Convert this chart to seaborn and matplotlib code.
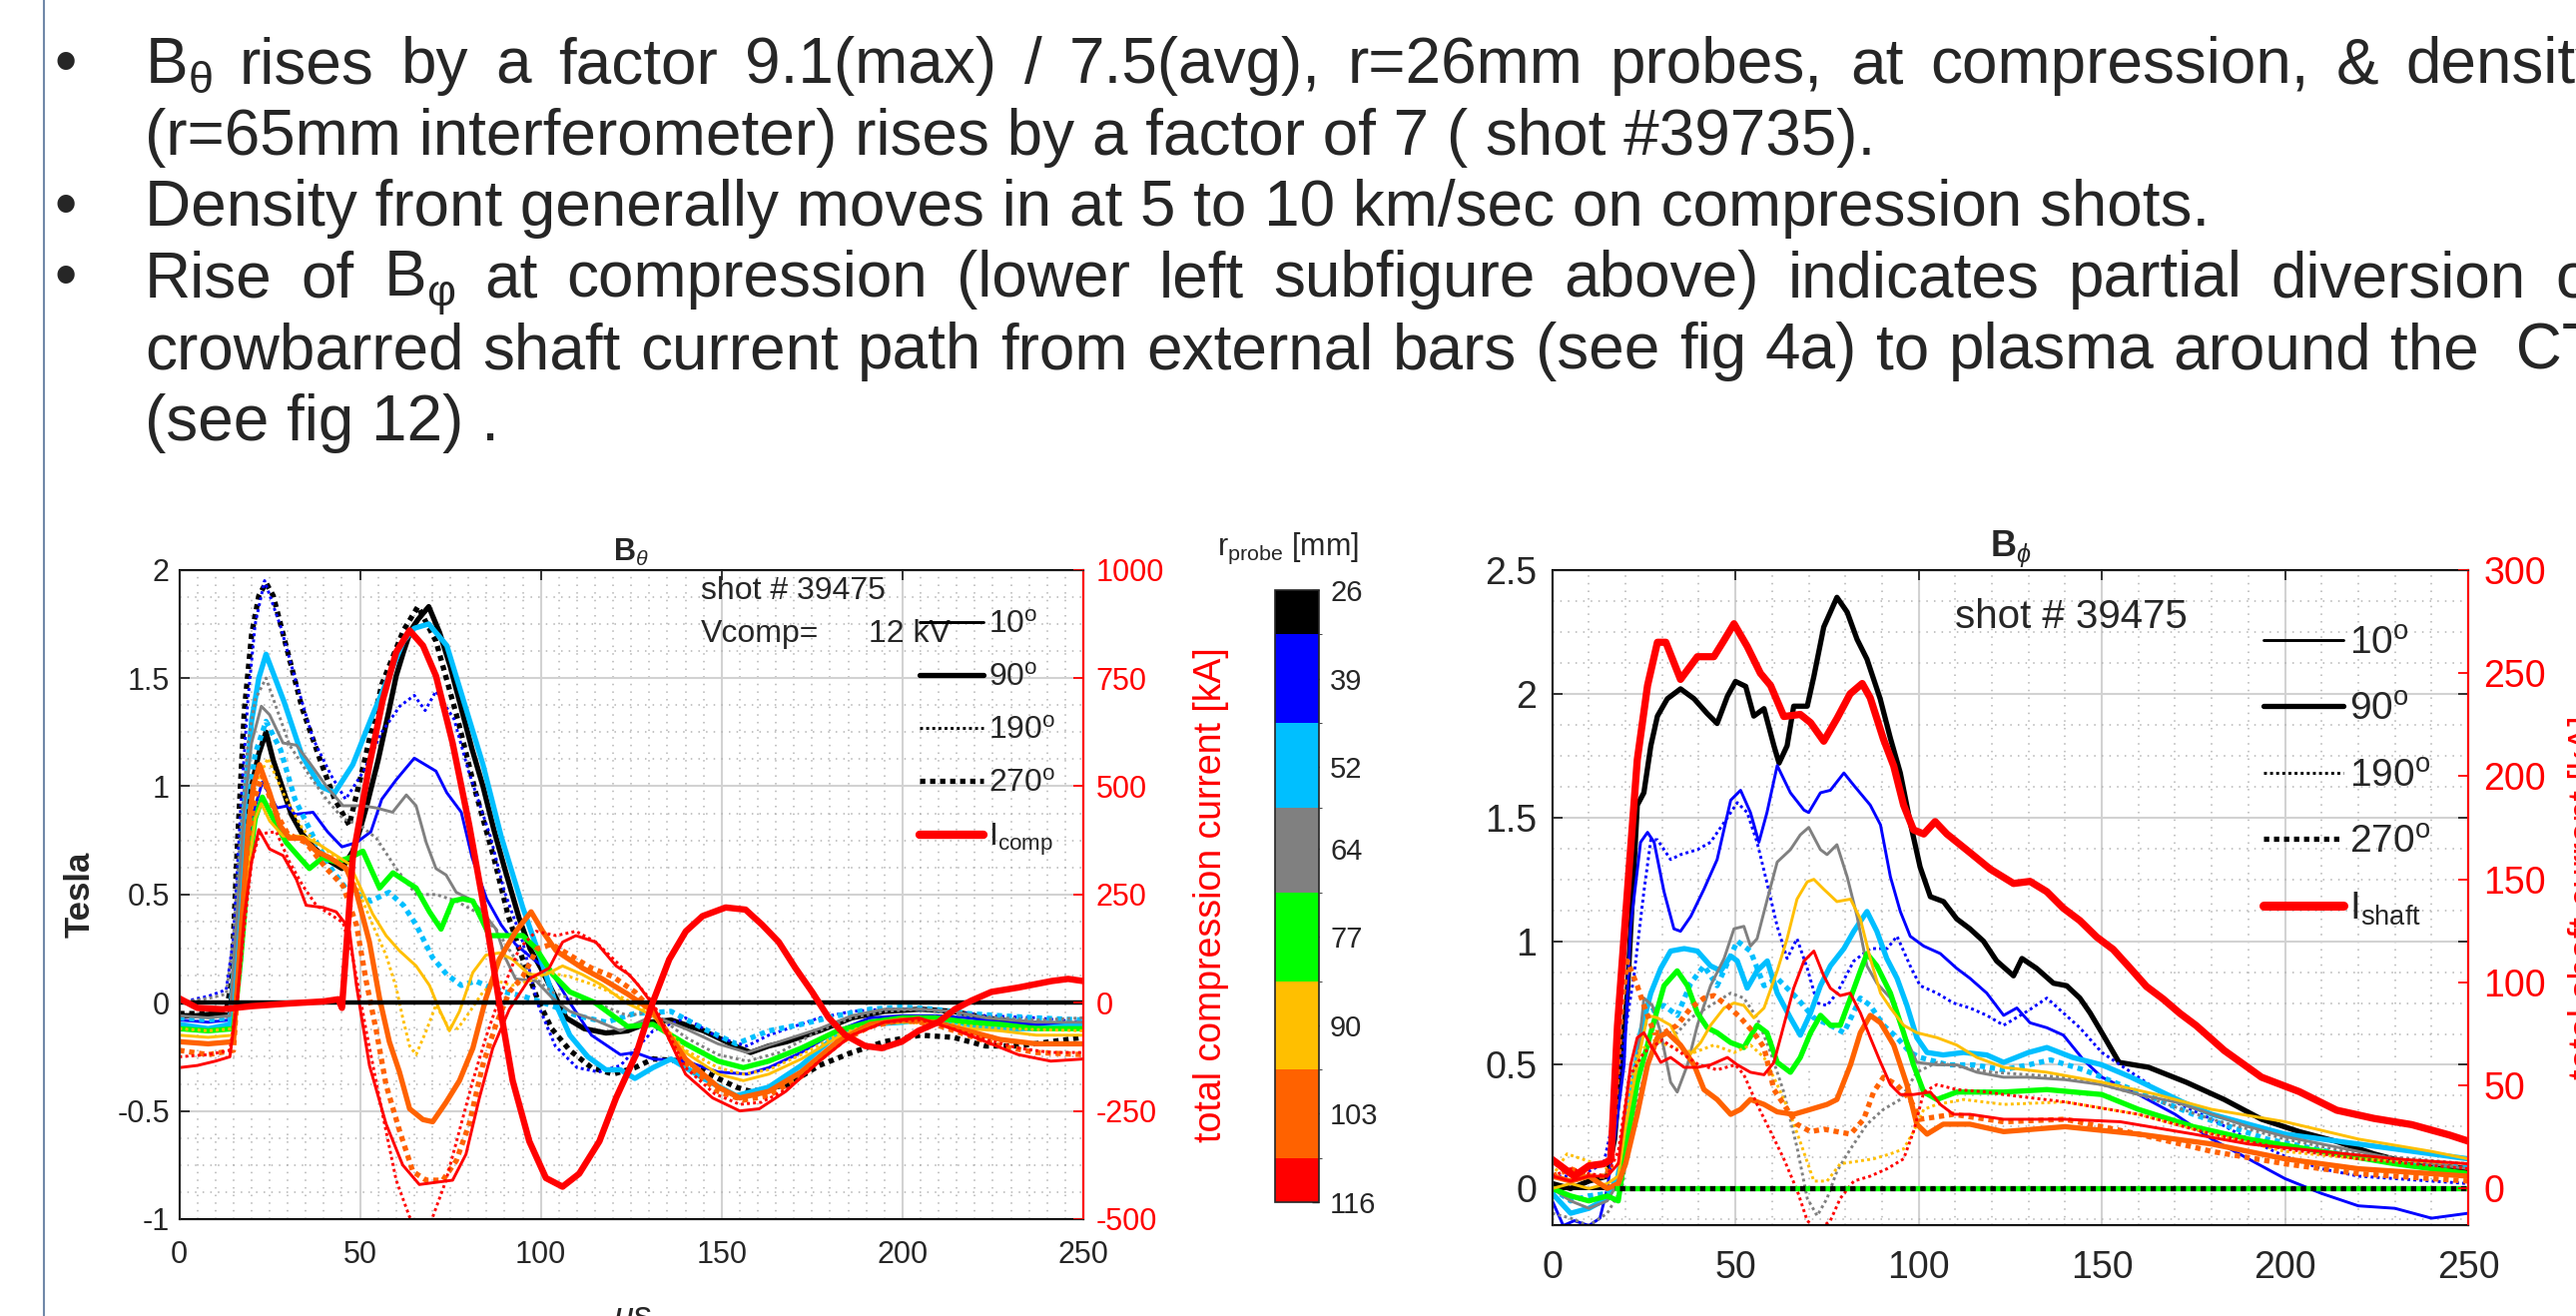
import matplotlib
matplotlib.use("Agg")
import matplotlib.pyplot as plt
from matplotlib.colors import ListedColormap, BoundaryNorm
from matplotlib.cm import ScalarMappable
from matplotlib.lines import Line2D
from matplotlib.ticker import MultipleLocator, FixedLocator, FuncFormatter
import seaborn as sns

sns.set_style("white")
plt.rcParams["font.family"] = ["Liberation Sans", "DejaVu Sans"]
plt.rcParams["mathtext.fontset"] = "custom"
plt.rcParams["mathtext.rm"] = "Liberation Sans"
plt.rcParams["mathtext.it"] = "Liberation Sans:italic"
plt.rcParams["mathtext.bf"] = "Liberation Sans:bold"
plt.rcParams["axes.unicode_minus"] = False

# ---------------------------------------------------------------- text
bullet1_words = [r"B$_{\mathrm{θ}}$", "rises", "by", "a", "factor", "9.1(max)", "/", "7.5(avg),",
                 "r=26mm", "probes,", "at", "compression,", "&", "density"]
line2_text = "(r=65mm interferometer) rises by a factor of 7 ( shot #39735)."
line3_text = "Density front generally moves in at 5 to 10 km/sec on compression shots."
bullet3_words = ["Rise", "of", r"B$_{\mathrm{φ}}$", "at", "compression", "(lower", "left", "subfigure",
                 "above)", "indicates", "partial", "diversion", "of"]
line5_words = ["crowbarred", "shaft", "current", "path", "from", "external", "bars", "(see", "fig", "4a)",
               "to", "plasma", "around", "the", " CT"]
line6_text = "(see fig 12) ."

# ---------------------------------------------------------------- colour bar
probe_radii = [26, 39, 52, 64, 77, 90, 103, 116]
probe_colors = ["#000000", "#0000ff", "#00bfff", "#808080", "#00ff00", "#ffbf00", "#ff6200", "#ff0000"]
probe_bounds = [26, 32.5, 45.5, 58, 70.5, 83.5, 96.5, 109.5, 116]

# ---------------------------------------------------------------- B_theta (left), Tesla vs microseconds
L26_10_t = [0, 250]
L26_10_y = [0.0, 0.0]
L26_90_t = [0, 5, 10, 14, 16, 18, 20, 22, 24, 26, 28, 31, 34, 37, 41, 45, 48, 50, 52, 55, 58, 60, 62, 64, 66, 69,
            72, 75, 78, 81, 84, 87, 90, 94, 97, 100, 103, 107, 112, 118, 124, 130, 136, 145, 150, 155, 158, 163,
            168, 177, 186, 195, 205, 214, 223, 232, 241, 250]
L26_90_y = [-0.06, -0.06, -0.05, -0.06, 0.3, 0.75, 1.0, 1.15, 1.25, 1.12, 1.02, 0.87, 0.78, 0.72, 0.66, 0.62, 0.7,
            0.8, 0.92, 1.12, 1.35, 1.51, 1.62, 1.72, 1.77, 1.83, 1.71, 1.55, 1.36, 1.17, 1.0, 0.8, 0.62, 0.39,
            0.25, 0.16, 0.06, -0.07, -0.12, -0.14, -0.13, -0.09, -0.08, -0.13, -0.17, -0.21, -0.23, -0.2, -0.18,
            -0.13, -0.07, -0.04, -0.03, -0.04, -0.07, -0.09, -0.1, -0.1]
L26_270_t = [0, 8, 13, 14.5, 16, 18, 20, 22, 24, 26, 30, 34, 39, 43, 47, 51, 56, 62, 66, 71, 77, 82, 87, 91, 95,
             99, 103, 108, 114, 120, 126, 131, 140, 149, 154, 158, 168, 177, 186, 195, 205, 214, 223, 232, 241, 250]
L26_270_y = [-0.05, -0.05, -0.04, 0.1, 0.7, 1.35, 1.7, 1.88, 1.94, 1.88, 1.62, 1.36, 1.12, 0.94, 0.82, 1.1, 1.47,
             1.72, 1.83, 1.67, 1.31, 0.97, 0.67, 0.4, 0.2, 0.02, -0.12, -0.22, -0.3, -0.33, -0.3, -0.26, -0.27,
             -0.35, -0.39, -0.41, -0.38, -0.29, -0.23, -0.18, -0.15, -0.16, -0.2, -0.2, -0.18, -0.16]
L39_10_t = [0, 8, 14, 16, 18, 20, 23, 27, 30, 32, 37, 41, 45, 49, 53, 56, 60, 65, 68, 71, 74, 78, 81, 85, 89, 93,
            98, 103, 108, 114, 122, 126, 131, 140, 149, 157, 163, 172, 182, 191, 200, 209, 218, 227, 237, 250]
L39_10_y = [-0.08, -0.09, -0.08, 0.2, 0.6, 0.85, 1.02, 0.9, 0.91, 0.87, 0.88, 0.79, 0.72, 0.74, 0.79, 0.94, 1.03,
            1.13, 1.10, 1.07, 0.97, 0.88, 0.67, 0.48, 0.36, 0.27, 0.2, 0.14, 0.0, -0.15, -0.24, -0.23, -0.26,
            -0.27, -0.32, -0.33, -0.30, -0.23, -0.13, -0.07, -0.06, -0.06, -0.07, -0.09, -0.10, -0.10]
L39_190_t = [0, 8, 13, 15, 17, 19, 21, 23.6, 28, 32, 37, 42, 46, 51, 56, 61, 65, 68, 71, 76, 80, 86, 90, 95, 99,
             104, 110, 116, 122, 131, 140, 149, 157, 163, 177, 186, 195, 205, 214, 223, 237, 250]
L39_190_y = [0.0, 0.03, 0.06, 0.3, 0.9, 1.4, 1.75, 1.95, 1.74, 1.5, 1.22, 1.05, 0.94, 1.07, 1.25, 1.37, 1.42, 1.35,
             1.44, 1.31, 1.07, 0.77, 0.51, 0.28, 0.0, -0.2, -0.3, -0.32, -0.29, -0.13, -0.07, -0.16, -0.20,
             -0.15, -0.07, -0.04, -0.03, -0.03, -0.04, -0.06, -0.07, -0.09]
L52_90_t = [0, 8, 14, 16, 18, 20, 22, 24, 29, 34, 39, 43, 48, 53, 57, 62, 65, 69, 74, 78, 84, 89, 95, 100, 104,
            108, 113, 118, 122, 126, 131, 136, 145, 154, 163, 172, 181, 191, 200, 209, 218, 227, 237, 250]
L52_90_y = [-0.1, -0.12, -0.1, 0.3, 0.9, 1.3, 1.5, 1.61, 1.39, 1.14, 1.0, 0.97, 1.1, 1.31, 1.47, 1.67, 1.73, 1.75,
            1.65, 1.43, 1.10, 0.77, 0.44, 0.20, 0.0, -0.15, -0.25, -0.31, -0.31, -0.35, -0.30, -0.26, -0.35,
            -0.43, -0.39, -0.29, -0.16, -0.10, -0.09, -0.07, -0.10, -0.12, -0.12, -0.10]
L52_270_t = [0, 8, 14, 16, 18, 21, 24, 28, 32, 37, 42, 46, 53, 58, 62, 65.5, 70, 74, 78, 82, 86, 90, 95, 99, 104,
             110, 118, 126, 136, 145, 154, 163, 172, 182, 191, 200, 209, 218, 227, 237, 250]
L52_270_y = [-0.07, -0.08, -0.07, 0.3, 0.8, 1.15, 1.3, 1.17, 0.94, 0.77, 0.62, 0.53, 0.47, 0.51, 0.45, 0.36, 0.21,
             0.13, 0.08, 0.1, 0.07, 0.05, 0.03, 0.01, -0.02, -0.06, -0.09, -0.05, -0.04, -0.12, -0.19, -0.13,
             -0.10, -0.06, -0.03, -0.02, -0.03, -0.05, -0.06, -0.07, -0.08]
L64_10_t = [0, 8, 14, 16, 18, 20, 22.7, 25, 28.7, 32.4, 36, 40.7, 45.3, 50.8, 54.5, 59, 62.8, 65.5, 68.3, 71, 73.8,
            76.6, 80.2, 83.9, 87.6, 90.4, 93, 98.7, 103.3, 108, 115, 122, 131, 140, 149, 157, 166, 177, 186, 195,
            205, 214, 223, 237, 250]
L64_10_y = [-0.06, -0.07, -0.06, 0.4, 0.9, 1.2, 1.37, 1.33, 1.2, 1.19, 1.11, 1.0, 0.91, 0.91, 0.90, 0.88, 0.96,
            0.91, 0.74, 0.62, 0.59, 0.51, 0.48, 0.42, 0.34, 0.2, 0.11, 0.1, 0.02, -0.04, -0.08, -0.13, -0.06,
            -0.12, -0.19, -0.23, -0.18, -0.12, -0.06, -0.03, -0.03, -0.04, -0.07, -0.09, -0.09]
L64_190_t = [0, 8, 13, 15, 17, 19, 21, 24, 30.5, 36, 40.7, 45.3, 50, 54.5, 60, 65.5, 71, 76.6, 82, 87.6, 93, 98.7,
             103, 108, 115, 124, 131, 140, 149, 157, 166, 177, 186, 195, 205, 218, 237, 250]
L64_190_y = [0.0, 0.02, 0.04, 0.3, 0.8, 1.2, 1.4, 1.50, 1.19, 1.05, 0.94, 0.85, 0.82, 0.76, 0.62, 0.50, 0.50, 0.47,
             0.42, 0.34, 0.2, 0.11, 0.05, 0.02, 0.0, -0.06, -0.04, -0.16, -0.24, -0.27, -0.23, -0.13, -0.07,
             -0.04, -0.03, -0.06, -0.08, -0.07]
L77_90_t = [0, 8, 15, 17, 19, 21, 23, 26, 29.6, 33.3, 36, 39.7, 43.4, 47.1, 50.8, 53.5, 55.4, 59.1, 61.8, 65.5,
            69.2, 72.4, 75.6, 78.4, 81.2, 85.8, 91.3, 95, 98.7, 103.3, 108, 115, 124, 131, 140, 149, 156, 163,
            172, 182, 191, 200, 209, 218, 227, 237, 250]
L77_90_y = [-0.12, -0.13, -0.12, 0.2, 0.6, 0.85, 0.95, 0.85, 0.74, 0.67, 0.62, 0.67, 0.65, 0.67, 0.70, 0.60, 0.53,
            0.60, 0.57, 0.53, 0.42, 0.34, 0.47, 0.48, 0.47, 0.31, 0.31, 0.31, 0.25, 0.13, 0.05, 0.0, -0.11, -0.10,
            -0.19, -0.27, -0.30, -0.27, -0.21, -0.13, -0.09, -0.07, -0.07, -0.09, -0.10, -0.12, -0.12]
L90_10_t = [0, 8, 15, 17, 19, 21, 22.7, 25, 28.7, 34.2, 38.8, 43.4, 47.1, 49.9, 53.5, 57.2, 60.9, 65.5, 69.2, 71.9,
            74.7, 77.5, 81.2, 84.8, 88.5, 92.2, 96.8, 101.4, 106, 111.5, 117, 123.5, 131, 140, 149, 156, 163, 172,
            182, 191, 200, 209, 218, 227, 237, 250]
L90_10_y = [-0.15, -0.16, -0.15, 0.2, 0.6, 0.85, 0.92, 0.84, 0.77, 0.77, 0.73, 0.68, 0.64, 0.54, 0.41, 0.31, 0.24,
            0.17, 0.08, -0.03, -0.13, -0.04, 0.14, 0.22, 0.23, 0.20, 0.13, 0.13, 0.17, 0.13, 0.08, 0.0, -0.06,
            -0.23, -0.33, -0.36, -0.33, -0.26, -0.16, -0.10, -0.09, -0.09, -0.12, -0.13, -0.15, -0.15]
L90_190_t = [0, 8, 15, 17, 19, 21, 24.5, 28.7, 34.2, 38.8, 43.4, 49, 53.5, 57.2, 60, 61.8, 63.7, 65.5, 68.3, 71, 74,
             77, 80, 84, 88, 92, 97, 102, 108, 115, 123, 131, 140, 149, 156, 163, 172, 182, 191, 200, 214, 227, 250]
L90_190_y = [-0.12, -0.13, -0.12, 0.3, 0.75, 1.0, 1.13, 0.97, 0.80, 0.73, 0.67, 0.54, 0.36, 0.22, 0.07, -0.07, -0.2,
             -0.24, -0.13, -0.01, -0.1, -0.12, -0.05, 0.05, 0.1, 0.08, 0.1, 0.14, 0.12, 0.08, 0.02, -0.05, -0.22,
             -0.30, -0.33, -0.31, -0.24, -0.15, -0.10, -0.09, -0.10, -0.12, -0.13]
L103_90_t = [0, 8, 15, 17, 19, 20.5, 22.2, 25, 27.8, 30.5, 34.2, 37.9, 41.6, 46.2, 49, 52.6, 55.4, 58.1, 60.9,
             63.7, 67.4, 70.1, 73.8, 77.5, 81.2, 84.8, 88.5, 93.1, 97.3, 100.5, 104.2, 111.5, 117, 124, 131, 140,
             149, 155, 163, 172, 182, 191, 200, 209, 218, 227, 237, 250]
L103_90_y = [-0.18, -0.19, -0.18, 0.3, 0.8, 1.0, 1.10, 0.97, 0.82, 0.76, 0.76, 0.70, 0.67, 0.62, 0.51, 0.28, 0.02,
             -0.18, -0.32, -0.49, -0.54, -0.55, -0.46, -0.36, -0.21, 0.02, 0.20, 0.33, 0.42, 0.33, 0.24, 0.16,
             0.11, 0.04, -0.04, -0.26, -0.39, -0.44, -0.41, -0.32, -0.18, -0.10, -0.08, -0.09, -0.13, -0.17,
             -0.19, -0.19]
L103_270_t = [0, 8, 15, 17, 19, 21, 23, 26, 30, 35, 40.7, 45.3, 49, 51.7, 54.5, 57.2, 60.9, 64.6, 68.3, 72.9, 76.6,
              80.2, 83.9, 87.6, 91.3, 95, 99, 103, 108, 114, 120, 126, 131, 140, 149, 156, 163, 172, 182, 191,
              200, 209, 218, 227, 237, 250]
L103_270_y = [-0.22, -0.24, -0.22, 0.3, 0.75, 0.95, 1.05, 0.9, 0.78, 0.74, 0.62, 0.54, 0.36, 0.10, -0.13, -0.38,
              -0.59, -0.78, -0.82, -0.82, -0.73, -0.56, -0.29, -0.10, 0.05, 0.12, 0.25, 0.27, 0.22, 0.16, 0.12,
              0.05, -0.04, -0.28, -0.41, -0.45, -0.43, -0.34, -0.19, -0.11, -0.08, -0.10, -0.15, -0.20, -0.23,
              -0.24]
L116_10_t = [0, 5, 10, 14, 16, 18, 20, 22, 25, 28.7, 32.4, 35.1, 39.7, 43.4, 46.2, 47.1, 49, 52.6, 57.2, 61.8,
             66.4, 71, 75.6, 79.3, 83, 86.7, 91.3, 96.8, 102.3, 106, 109.7, 115.2, 120.8, 124.4, 127, 131, 140,
             147.5, 155, 160.4, 167.7, 177, 186, 195, 204.5, 213.7, 223, 232, 241, 250]
L116_10_y = [-0.30, -0.29, -0.27, -0.25, 0.0, 0.4, 0.65, 0.80, 0.71, 0.68, 0.57, 0.45, 0.44, 0.42, 0.36, 0.33, 0.08,
             -0.29, -0.56, -0.75, -0.84, -0.83, -0.82, -0.70, -0.44, -0.21, -0.03, 0.11, 0.16, 0.28, 0.31, 0.28,
             0.17, 0.13, 0.08, -0.01, -0.33, -0.44, -0.50, -0.49, -0.41, -0.27, -0.15, -0.09, -0.07, -0.12,
             -0.18, -0.24, -0.27, -0.26]
L116_190_t = [0, 8, 14, 16, 18, 20, 22.2, 26.8, 30.5, 34.2, 37.9, 41.6, 45.3, 48, 51.7, 56.3, 60, 63.7, 66.5, 70.1,
              73.8, 77.5, 81.2, 84.8, 88.5, 94, 98.7, 104.2, 109.7, 115.2, 120.8, 126, 131, 140, 148, 155, 161,
              168, 177, 186, 195, 205, 214, 223, 232, 241, 250]
L116_190_y = [-0.25, -0.24, -0.22, 0.0, 0.35, 0.65, 0.78, 0.79, 0.65, 0.54, 0.45, 0.41, 0.37, 0.21, -0.13, -0.52,
              -0.82, -0.99, -1.05, -0.99, -0.82, -0.59, -0.36, -0.16, 0.02, 0.25, 0.33, 0.31, 0.33, 0.28, 0.19,
              0.10, 0.0, -0.30, -0.42, -0.47, -0.46, -0.40, -0.27, -0.15, -0.09, -0.08, -0.12, -0.17, -0.21,
              -0.23, -0.23]
Icomp_t = [0, 5, 12, 20, 30, 40, 44, 45, 48, 52.6, 56.3, 60, 63.7, 67.4, 71, 75.6, 80.2, 84.8, 88.5, 92.2, 96.8,
           101.4, 106, 110.6, 116.2, 120.8, 126.3, 130.9, 135.5, 140.1, 144.7, 151.1, 156.6, 161.2, 165.8, 170.4,
           175, 179.6, 184.2, 189.7, 194.3, 199.8, 204.4, 209.9, 214.5, 219.1, 224.6, 232, 241.2, 245.8, 250]
Icomp_kA = [10, -12, -15, -8, -2, 3, 8, -12, 335, 550, 700, 810, 860, 825, 755, 600, 410, 195, 0, -180, -320, -405,
            -425, -395, -320, -220, -120, 0, 100, 165, 200, 220, 215, 180, 140, 80, 25, -35, -75, -100, -105, -90,
            -65, -45, -15, 5, 25, 35, 50, 55, 50]

# ---------------------------------------------------------------- B_phi (right)
R26_10_t = [0, 250]
R26_10_y = [0.0, 0.0]
R26_270_t = [17, 250]
R26_270_y = [0.0, 0.0]
R77_270_t = [17, 250]
R77_270_y = [0.0, 0.0]
R26_90_t = [0, 5, 10, 15, 17, 19, 20.5, 23.2, 25, 26.9, 28.7, 31.4, 35, 38.7, 42.3, 45, 47.8, 50, 52.8, 55, 57.8,
            60.5, 61.9, 64.1, 65.9, 69.6, 71.4, 74.1, 77.7, 80.5, 83.2, 85.9, 89.5, 92.3, 95, 97.7, 100.4, 103.2,
            106.8, 110.4, 114, 117.7, 121.3, 125.9, 128.2, 132.2, 136.8, 140.4, 144, 146.8, 150.4, 154.7, 162.8,
            173, 183.4, 193.6, 203.9, 214.1, 224.3, 234.6, 250]
R26_90_y = [0.02, 0.0, 0.03, 0.05, 0.2, 0.55, 0.79, 1.55, 1.60, 1.79, 1.91, 1.98, 2.02, 1.98, 1.92, 1.88, 1.99,
            2.05, 2.03, 1.91, 1.94, 1.79, 1.72, 1.79, 1.95, 1.95, 2.07, 2.27, 2.39, 2.33, 2.22, 2.14, 1.98, 1.82,
            1.68, 1.48, 1.30, 1.18, 1.16, 1.09, 1.05, 1.00, 0.92, 0.86, 0.93, 0.89, 0.83, 0.82, 0.77, 0.71, 0.62,
            0.51, 0.49, 0.43, 0.36, 0.28, 0.23, 0.19, 0.14, 0.10, 0.08]
R39_10_t = [0, 3, 6, 10, 13, 15, 17, 19.6, 21.4, 24.1, 26, 27.8, 30.5, 33.2, 35, 37.8, 41.4, 45, 48.7, 51.4, 54.1,
            56.4, 58.6, 61.4, 65, 68.7, 70, 73.2, 75.9, 79.6, 82.3, 86.8, 89.6, 92.3, 95, 97.7, 101.4, 105.9,
            110.4, 114, 118.6, 123.2, 126.8, 130.4, 135, 139.5, 145, 150, 160, 170, 180, 190, 200, 210, 220, 230,
            240, 250]
R39_10_y = [-0.05, -0.15, -0.13, -0.15, -0.12, 0.0, 0.2, 0.5, 1.06, 1.40, 1.44, 1.40, 1.20, 1.05, 1.04, 1.10, 1.21,
            1.33, 1.57, 1.61, 1.52, 1.40, 1.52, 1.71, 1.60, 1.53, 1.52, 1.60, 1.61, 1.68, 1.63, 1.55, 1.47, 1.26,
            1.12, 1.02, 0.98, 0.95, 0.89, 0.85, 0.79, 0.70, 0.73, 0.67, 0.65, 0.62, 0.52, 0.45, 0.38, 0.30, 0.20,
            0.12, 0.04, -0.02, -0.07, -0.08, -0.12, -0.10]
R39_190_t = [0, 5, 10, 14, 17, 19, 22.3, 25, 26.9, 28.7, 32.3, 35, 39.6, 43.2, 46.9, 50.5, 53.2, 55.9, 58.7, 61.4,
             64.1, 66.8, 69.6, 72.3, 75, 77.7, 82.3, 86.8, 91.4, 94.1, 97.7, 100.4, 105, 109.5, 114, 118.6, 123.2,
             130, 135, 139.5, 144, 150, 160, 170, 180, 190, 200, 210, 220, 230, 240, 250]
R39_190_y = [0.05, 0.05, 0.07, 0.1, 0.3, 0.55, 0.86, 1.20, 1.41, 1.41, 1.33, 1.35, 1.37, 1.40, 1.48, 1.56, 1.52,
             1.40, 1.23, 1.06, 0.93, 1.01, 0.89, 0.75, 0.74, 0.79, 0.92, 0.97, 0.97, 1.02, 0.90, 0.82, 0.79, 0.75,
             0.73, 0.70, 0.66, 0.72, 0.77, 0.71, 0.65, 0.55, 0.45, 0.35, 0.28, 0.20, 0.13, 0.08, 0.05, 0.04, 0.03,
             0.02]
R52_90_t = [0, 5, 10, 15, 18, 21.4, 24.1, 26.9, 29.6, 32.3, 36, 39.6, 43.2, 46, 48.7, 50.5, 53.2, 55.9, 58.7, 61.4,
            65, 67.7, 70.5, 73.2, 75.9, 79.6, 82.3, 85.9, 88.6, 91.3, 94.1, 96.8, 99.5, 102.3, 106.7, 112.3, 118.6,
            123.2, 130, 135, 142, 150, 158, 165, 172, 180, 190, 200, 210, 220, 230, 240, 250]
R52_90_y = [-0.02, -0.1, -0.08, -0.04, 0.05, 0.36, 0.63, 0.79, 0.89, 0.96, 0.97, 0.96, 0.90, 0.88, 0.94, 0.92, 0.81,
            0.88, 0.92, 0.79, 0.69, 0.62, 0.71, 0.82, 0.90, 0.97, 1.04, 1.12, 1.04, 0.93, 0.85, 0.74, 0.61, 0.55,
            0.54, 0.55, 0.54, 0.51, 0.55, 0.57, 0.53, 0.50, 0.45, 0.40, 0.35, 0.30, 0.26, 0.22, 0.20, 0.18, 0.16,
            0.14, 0.12]
R52_270_t = [0, 5, 10, 15, 18, 21, 24, 26, 30.5, 34.1, 37.8, 41.4, 45, 50.5, 54.1, 57.8, 61.4, 66.8, 71.4, 75.9,
             79.6, 84.1, 86.8, 90.4, 94.1, 97.7, 100.4, 108, 115, 123, 130, 136, 145, 155, 165, 175, 185, 195, 205,
             215, 225, 235, 250]
R52_270_y = [0.0, -0.05, -0.03, -0.02, 0.05, 0.35, 0.6, 0.71, 0.74, 0.70, 0.83, 0.90, 0.82, 1.0, 0.96, 0.82, 0.85,
             0.77, 0.69, 0.66, 0.63, 0.77, 0.74, 0.66, 0.61, 0.55, 0.53, 0.50, 0.50, 0.48, 0.50, 0.52, 0.48, 0.42,
             0.36, 0.30, 0.25, 0.20, 0.17, 0.14, 0.12, 0.10, 0.09]
R64_10_t = [0, 5, 10, 15, 19, 21, 23.2, 25, 27.3, 29.6, 32.3, 34.1, 36.9, 39.6, 43.2, 46.9, 49.6, 52.3, 54.1, 55.9,
            58.7, 61.4, 65, 67.7, 70, 73.2, 75, 77.7, 80.5, 83.2, 85.9, 88.6, 92.3, 95.9, 99.5, 105, 110.4, 115.9,
            123.2, 130, 140, 150, 160, 170, 180, 190, 200, 210, 220, 230, 240, 250]
R64_10_y = [0.0, -0.05, -0.08, -0.05, 0.05, 0.25, 0.50, 0.77, 0.74, 0.63, 0.43, 0.39, 0.50, 0.66, 0.82, 0.93, 1.05,
            1.06, 0.98, 1.01, 1.17, 1.32, 1.37, 1.43, 1.46, 1.37, 1.35, 1.39, 1.26, 1.10, 0.90, 0.83, 0.77, 0.63,
            0.51, 0.50, 0.50, 0.47, 0.45, 0.45, 0.44, 0.42, 0.38, 0.35, 0.30, 0.25, 0.21, 0.18, 0.15, 0.12, 0.10,
            0.08]
R64_190_t = [0, 5, 10, 15, 19, 21.4, 24, 26.9, 30.5, 34.1, 37.8, 43.2, 48.7, 52.3, 55.9, 59.6, 63.2, 66.9, 69.6,
             72.3, 75, 77.7, 81.4, 85.9, 90.4, 95, 99.5, 105, 112, 120, 130, 140, 150, 160, 170, 180, 190, 200, 210,
             220, 235, 250]
R64_190_y = [-0.1, -0.12, -0.15, -0.1, 0.0, 0.23, 0.4, 0.54, 0.63, 0.63, 0.69, 0.74, 0.79, 0.77, 0.69, 0.55, 0.39,
             0.16, -0.04, -0.11, -0.04, 0.07, 0.16, 0.26, 0.32, 0.36, 0.47, 0.51, 0.49, 0.47, 0.46, 0.45, 0.42, 0.38,
             0.33, 0.28, 0.24, 0.20, 0.17, 0.14, 0.12, 0.10]
R77_90_t = [0, 5, 10, 15, 18, 20, 23.2, 26.9, 30.5, 34.1, 36.9, 39.6, 42.3, 45, 48.7, 52.3, 55.9, 58.6, 61.4, 65,
            67.7, 70.5, 73.2, 75.9, 78.6, 81.4, 84.1, 85.9, 88.6, 92.3, 95.9, 98.6, 101.4, 105, 110.4, 115.9, 123.2,
            135, 150, 160, 175, 190, 210, 230, 250]
R77_90_y = [0.0, -0.03, -0.05, -0.03, -0.05, 0.15, 0.43, 0.63, 0.82, 0.88, 0.82, 0.71, 0.65, 0.63, 0.59, 0.57, 0.66,
            0.63, 0.51, 0.47, 0.53, 0.63, 0.70, 0.66, 0.66, 0.77, 0.88, 0.95, 0.90, 0.79, 0.63, 0.50, 0.39, 0.36,
            0.39, 0.39, 0.39, 0.40, 0.38, 0.32, 0.25, 0.20, 0.15, 0.10, 0.06]
R90_10_t = [0, 5, 10, 15, 18, 20, 23.2, 26, 28.7, 32.3, 35, 36.9, 40.5, 43.2, 46.9, 49.6, 52.3, 55, 57.8, 61.4,
            64.1, 66.8, 69.6, 71.4, 74.1, 77.7, 81.4, 84.1, 86.8, 89.6, 92.3, 95.9, 99.5, 105, 110.4, 115.9, 123.2,
            135, 150, 165, 180, 200, 220, 240, 250]
R90_10_y = [0.0, 0.02, 0.0, 0.02, 0.05, 0.25, 0.50, 0.70, 0.69, 0.66, 0.58, 0.53, 0.59, 0.66, 0.73, 0.75, 0.74,
            0.69, 0.73, 0.88, 1.01, 1.17, 1.24, 1.25, 1.21, 1.16, 1.17, 1.09, 0.93, 0.79, 0.73, 0.66, 0.63, 0.61,
            0.58, 0.53, 0.49, 0.47, 0.43, 0.38, 0.32, 0.27, 0.20, 0.15, 0.12]
R90_190_t = [0, 4, 8, 12, 15, 18, 20, 23.2, 28, 33, 38.7, 44.1, 49.6, 54.1, 57.8, 61.4, 65, 68.6, 71.4, 75, 78.6,
             83.2, 87.7, 92.3, 95.9, 98.6, 101.4, 105, 112.3, 123.2, 140, 160, 180, 200, 220, 250]
R90_190_y = [0.05, 0.14, 0.12, 0.1, 0.08, 0.1, 0.3, 0.55, 0.6, 0.57, 0.55, 0.58, 0.55, 0.58, 0.53, 0.42, 0.30,
             0.15, 0.03, 0.03, 0.10, 0.11, 0.12, 0.14, 0.16, 0.23, 0.32, 0.34, 0.36, 0.34, 0.35, 0.30, 0.22, 0.15,
             0.12, 0.10]
R103_90_t = [0, 5, 10, 15, 18, 20, 23.2, 26, 28.7, 31.4, 35, 38.7, 41.4, 45, 48.7, 51.4, 54.1, 57.8, 61.4, 65.9,
             70.5, 75, 77.7, 81.4, 84.1, 86.8, 89.6, 93.2, 96.8, 99.5, 102.3, 106.7, 114, 123.2, 140, 160, 180, 200,
             220, 240, 250]
R103_90_y = [0.05, 0.03, 0.05, 0.0, 0.02, 0.1, 0.30, 0.50, 0.61, 0.63, 0.58, 0.50, 0.40, 0.36, 0.30, 0.32, 0.36,
             0.34, 0.31, 0.30, 0.32, 0.34, 0.36, 0.50, 0.63, 0.70, 0.67, 0.58, 0.42, 0.26, 0.22, 0.26, 0.26, 0.23,
             0.25, 0.22, 0.18, 0.12, 0.08, 0.06, 0.05]
R103_270_t = [0, 5, 10, 15, 17, 19, 20.5, 23.2, 25, 27.8, 30.5, 34.1, 37.8, 41.4, 44.1, 47.8, 51.4, 55, 57.8, 60.5,
              63.2, 66.8, 70.5, 74.1, 77.7, 81.4, 85, 87.7, 90.4, 94, 97.7, 100.4, 109.5, 123.2, 140, 160, 180, 200,
              220, 240, 250]
R103_270_y = [0.05, 0.08, 0.05, 0.05, 0.3, 0.75, 0.92, 0.82, 0.74, 0.63, 0.63, 0.66, 0.73, 0.77, 0.78, 0.74, 0.69,
              0.63, 0.57, 0.40, 0.34, 0.26, 0.23, 0.24, 0.23, 0.22, 0.28, 0.39, 0.45, 0.42, 0.36, 0.28, 0.30, 0.27,
              0.28, 0.22, 0.15, 0.10, 0.06, 0.04, 0.03]
R116_10_t = [0, 5, 10, 15, 18, 21.4, 23.2, 25, 26.9, 29.6, 32.3, 36, 39.6, 43.2, 47.8, 50.5, 54.1, 57.8, 60.5, 63.2,
             65.9, 68.7, 71.4, 74.1, 75.9, 78.6, 81.3, 84.1, 86.8, 89.6, 92.3, 95, 98.6, 103.2, 105.9, 109.5, 114,
             123.2, 140, 155, 175, 190, 210, 230, 250]
R116_10_y = [0.05, 0.03, 0.05, 0.05, 0.1, 0.50, 0.61, 0.63, 0.58, 0.51, 0.53, 0.49, 0.49, 0.50, 0.53, 0.50, 0.47,
             0.46, 0.51, 0.66, 0.81, 0.92, 0.96, 0.86, 0.81, 0.78, 0.79, 0.71, 0.61, 0.51, 0.42, 0.38, 0.38, 0.39,
             0.34, 0.30, 0.30, 0.28, 0.28, 0.27, 0.22, 0.18, 0.15, 0.12, 0.10]
R116_190_t = [0, 5, 10, 15, 18, 21, 25, 30, 35, 40, 45, 50, 52.3, 55.9, 59.6, 63.2, 66.9, 69.6, 72.5, 75.9, 78.6,
              82.3, 86.8, 91.4, 95.9, 98.6, 101.4, 105, 110.4, 118.6, 123.2, 140, 160, 180, 200, 220, 250]
R116_190_y = [0.05, 0.08, 0.06, 0.05, 0.15, 0.45, 0.55, 0.60, 0.55, 0.50, 0.48, 0.50, 0.46, 0.34, 0.23, 0.12, -0.01,
              -0.13, -0.17, -0.13, -0.04, 0.03, 0.05, 0.08, 0.12, 0.23, 0.39, 0.42, 0.40, 0.39, 0.38, 0.35, 0.30,
              0.22, 0.16, 0.12, 0.08]
Ishaft_t = [0, 3, 6, 10, 14, 16, 17.8, 20.5, 23.2, 26, 28.7, 31, 35, 39.6, 44.1, 46.9, 49.6, 53.2, 56.8, 59.6, 63.2,
            67.7, 70.5, 74.1, 77.7, 81.3, 84.6, 86.8, 90.4, 93.2, 95.9, 98.6, 101.4, 104.5, 107.7, 114, 119.5,
            125.9, 130.4, 135, 139.5, 144, 148.6, 153.1, 157.7, 162.2, 166.7, 171.3, 175.8, 183.4, 193.6, 203.9,
            214.1, 224.3, 234.6, 244.8, 250]
Ishaft_kA = [14, 10, 6, 11, 12, 14, 79, 144, 208, 244, 265, 265, 247, 258, 258, 266, 274, 263, 250, 244, 229, 230,
             226, 217, 228, 240, 245, 238, 218, 205, 186, 174, 172, 178, 172, 163, 155, 148, 149, 144, 136, 130, 122,
             116, 107, 98, 92, 85, 79, 67, 54, 47, 38, 34, 31, 26, 23]

# ---------------------------------------------------------------- styles
STYLE = {
    "10": dict(lw=2.1, ls="-"),
    "90": dict(lw=3.8, ls="-"),
    "190": dict(lw=2.1, ls=(0, (1, 1.1))),
    "270": dict(lw=3.8, ls=(0, (1, 0.9))),
}
COL = dict(zip(probe_radii, probe_colors))

left_series = [
    (L26_90_t, L26_90_y, 26, "90"), (L26_270_t, L26_270_y, 26, "270"),
    (L39_10_t, L39_10_y, 39, "10"), (L39_190_t, L39_190_y, 39, "190"),
    (L52_90_t, L52_90_y, 52, "90"), (L52_270_t, L52_270_y, 52, "270"),
    (L64_10_t, L64_10_y, 64, "10"), (L64_190_t, L64_190_y, 64, "190"),
    (L77_90_t, L77_90_y, 77, "90"),
    (L90_10_t, L90_10_y, 90, "10"), (L90_190_t, L90_190_y, 90, "190"),
    (L103_90_t, L103_90_y, 103, "90"), (L103_270_t, L103_270_y, 103, "270"),
    (L116_10_t, L116_10_y, 116, "10"), (L116_190_t, L116_190_y, 116, "190"),
]
right_series = [
    (R26_90_t, R26_90_y, 26, "90"),
    (R39_10_t, R39_10_y, 39, "10"), (R39_190_t, R39_190_y, 39, "190"),
    (R52_90_t, R52_90_y, 52, "90"), (R52_270_t, R52_270_y, 52, "270"),
    (R64_10_t, R64_10_y, 64, "10"), (R64_190_t, R64_190_y, 64, "190"),
    (R77_90_t, R77_90_y, 77, "90"),
    (R90_10_t, R90_10_y, 90, "10"), (R90_190_t, R90_190_y, 90, "190"),
    (R103_90_t, R103_90_y, 103, "90"), (R103_270_t, R103_270_y, 103, "270"),
    (R116_10_t, R116_10_y, 116, "10"), (R116_190_t, R116_190_y, 116, "190"),
]

W, H = 2580, 1318
fig = plt.figure(figsize=(W / 100, H / 100), dpi=100)
fig.patch.set_facecolor("white")


def fx(px):
    return px / W


def fy(py):
    return 1 - py / H


axL = fig.add_axes([fx(179.5), fy(1221), (1085 - 179.5) / W, (1221 - 570.7) / H])
axR = fig.add_axes([fx(1554.7), fy(1227), (2472 - 1554.7) / W, (1227 - 571) / H])
cax = fig.add_axes([fx(1277), fy(1204), (1321 - 1277) / W, (1204 - 591) / H])


def draw(ax, t, y, color, lw, ls, z=2):
    sns.lineplot(x=t, y=y, ax=ax, color=color, linewidth=lw, linestyle=ls, estimator=None, sort=False,
                 legend=False, zorder=z)


# left panel curves
draw(axL, L26_10_t, L26_10_y, "black", 3.2, "-", z=3)
for t, y, r, a in left_series:
    draw(axL, t, y, COL[r], STYLE[a]["lw"], STYLE[a]["ls"])
axL2 = axL.twinx()
draw(axL2, Icomp_t, Icomp_kA, "#ff0000", 4.6, "-")

# right panel curves
draw(axR, R26_10_t, R26_10_y, "black", 2.1, "-")
for t, y, r, a in right_series:
    draw(axR, t, y, COL[r], STYLE[a]["lw"], STYLE[a]["ls"])
draw(axR, R77_270_t, R77_270_y, COL[77], 3.8, (0, (1, 0.9)), z=3)
draw(axR, R26_270_t, R26_270_y, "black", 3.8, (0.95, (1, 0.9)), z=3)
axR2 = axR.twinx()
draw(axR2, Ishaft_t, Ishaft_kA, "#ff0000", 5.2, "-")

fmt = FuncFormatter(lambda v, p: f"{v:g}")

for ax, xminor, ysz, xpad, ypad in [(axL, 5, 22, 15, 7), (axR, 10, 27, 18, 11)]:
    ax.set_xlim(0, 250)
    ax.xaxis.set_major_locator(MultipleLocator(50))
    ax.xaxis.set_minor_locator(MultipleLocator(xminor))
    ax.yaxis.set_minor_locator(MultipleLocator(0.125))
    ax.xaxis.set_major_formatter(fmt)
    ax.yaxis.set_major_formatter(fmt)
    ax.set_axisbelow(True)
    ax.grid(which="major", color="#d2d2d2", lw=1.5, ls="-")
    ax.grid(which="minor", color="#b4b4b4", lw=1.1, ls=(0, (1, 4)))
    ax.tick_params(which="major", direction="in", length=7, width=1.3, labelsize=ysz, top=True)
    ax.tick_params(axis="x", pad=xpad)
    ax.tick_params(axis="y", pad=ypad)
    ax.tick_params(which="minor", length=0)
    for s in ax.spines.values():
        s.set_linewidth(1.5)
        s.set_color("black")
    ax.set_xlabel("")
    ax.set_ylabel("")

axL.set_ylim(-1, 2)
axL.yaxis.set_major_locator(MultipleLocator(0.5))
axL.tick_params(right=False)
axL2.set_ylim(-500, 1000)
axL2.yaxis.set_major_locator(FixedLocator([-500, -250, 0, 250, 500, 750, 1000]))
axL2.tick_params(axis="y", direction="in", length=7, width=1.3, colors="red", labelsize=22, pad=9)
axL2.spines["right"].set_color("red")
axL2.spines["right"].set_linewidth(1.5)
axL2.grid(False)

axR.set_ylim(-0.148, 2.5)
axR.yaxis.set_major_locator(FixedLocator([0, 0.5, 1, 1.5, 2, 2.5]))
axR.tick_params(right=True)
axR2.set_ylim(-0.148 * 120, 300)
axR2.yaxis.set_major_locator(FixedLocator([0, 50, 100, 150, 200, 250, 300]))
axR2.tick_params(axis="y", direction="in", length=7, width=1.3, colors="red", labelsize=27, pad=11)
axR2.spines["right"].set_color("red")
axR2.spines["right"].set_linewidth(1.5)
axR2.grid(False)

for ax2 in (axL2, axR2):
    ax2.set_xlabel("")

# labels and titles
axL.set_title(r"$\mathbf{B}_{\mathit{θ}}$", fontsize=22, pad=6)
axR.set_title(r"$\mathbf{B}_{\phi}$", fontsize=26, pad=6)
axL.set_ylabel("Tesla", fontsize=25, fontweight="bold")
axL.yaxis.set_label_coords(-0.092, 0.5)
axL.set_xlabel(r"$\mu$s", fontsize=26)
axL.xaxis.set_label_coords(0.502, -0.125)
axL2.set_ylabel("total compression current [kA]", color="red", fontsize=27)
axL2.yaxis.set_label_coords(1.1215, 0.5)
axR2.set_ylabel("total shaft current [kA]", color="red", fontsize=27)
axR2.yaxis.set_label_coords(1.109, 0.5)

# annotations
axL2.text(0.577, 0.968, "shot # 39475", transform=axL.transAxes, fontsize=23, va="center", ha="left")
axL2.text(0.577, 0.901, "Vcomp=", transform=axL.transAxes, fontsize=23, va="center", ha="left")
axL2.text(0.7626, 0.901, "12 kV", transform=axL.transAxes, fontsize=23, va="center", ha="left")
axR2.text(0.4396, 0.928, "shot # 39475", transform=axR.transAxes, fontsize=29, va="center", ha="left")

deg = ["10$^{\\mathrm{o}}$", "90$^{\\mathrm{o}}$", "190$^{\\mathrm{o}}$", "270$^{\\mathrm{o}}$"]


def leg_handles(lw_red):
    return [Line2D([], [], color="black", lw=STYLE[k]["lw"], ls=STYLE[k]["ls"]) for k in ["10", "90", "190", "270"]] + \
           [Line2D([], [], color="red", lw=lw_red)]


legL = axL2.legend(leg_handles(6), deg + [r"I$_{\mathrm{comp}}$"], loc="upper left",
                   bbox_to_anchor=(0.819, 0.938), frameon=False, fontsize=23, handlelength=2.0,
                   handletextpad=0.15, labelspacing=0.72, borderpad=0, borderaxespad=0)
legR = axR2.legend(leg_handles(6.5), deg + [r"I$_{\mathrm{shaft}}$"], loc="upper left",
                   bbox_to_anchor=(0.777, 0.915), frameon=False, fontsize=28, handlelength=2.05,
                   handletextpad=0.15, labelspacing=0.78, borderpad=0, borderaxespad=0)

# colour bar
cmap = ListedColormap(probe_colors)
norm = BoundaryNorm(probe_bounds, cmap.N)
cb = fig.colorbar(ScalarMappable(norm=norm, cmap=cmap), cax=cax, ticks=probe_radii, spacing="proportional")
cax.invert_yaxis()
cax.tick_params(labelsize=21, direction="in", length=5, width=1, pad=8)
cb.outline.set_linewidth(1.2)
fig.text(fx(1219), fy(556), r"r$_{\mathrm{probe}}$ [mm]", fontsize=22, va="baseline", ha="left")

# slide border
fig.add_artist(Line2D([fx(44), fx(44)], [0, 1], transform=fig.transFigure, color="#7088a8", lw=1.5))

# slide text
FS = 46
renderer = fig.canvas.get_renderer()
SPACE = 0.278 * FS * 100 / 72


def words_line(words, base, x0, x1=None):
    ts = [fig.text(0, fy(base), w, fontsize=FS, va="baseline", ha="left") for w in words]
    ws = [t.get_window_extent(renderer).width for t in ts]
    gap = SPACE if x1 is None else (x1 - x0 - sum(ws)) / (len(words) - 1)
    x = x0
    for t, w in zip(ts, ws):
        t.set_x(fx(x))
        x += w + gap


X0 = 145
for yb in (83, 226, 297):
    fig.text(fx(66), fy(yb), "•", fontsize=FS, va="baseline", ha="center")
words_line(bullet1_words, 83, X0, 2612)
fig.text(fx(X0), fy(155), line2_text, fontsize=FS, va="baseline", ha="left")
fig.text(fx(X0), fy(226), line3_text, fontsize=FS, va="baseline", ha="left")
words_line(bullet3_words, 297, X0, 2612)
words_line(line5_words, 369, X0, 2605)
fig.text(fx(X0), fy(441), line6_text, fontsize=FS, va="baseline", ha="left")

fig.savefig("out.png", dpi=100, facecolor="white")
